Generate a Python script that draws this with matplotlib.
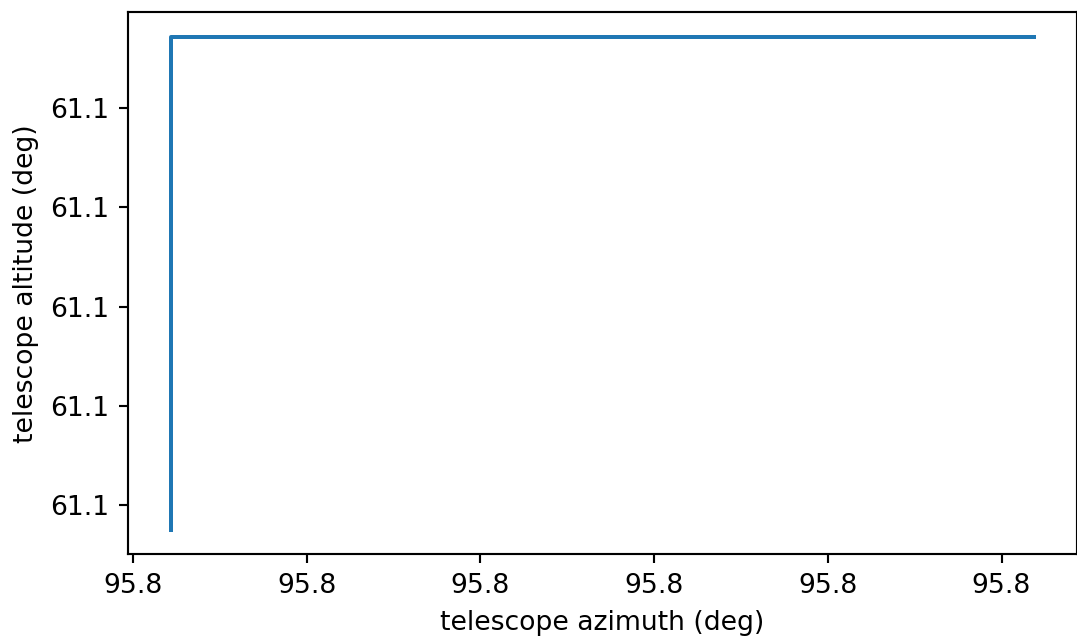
import matplotlib
matplotlib.use("Agg")
import matplotlib.pyplot as plt
from matplotlib.ticker import FormatStrFormatter

# telescope pointing track (deg)
azimuth = [95.844044, 95.844044, 95.845037]
altitude = [61.099975, 61.100472, 61.100472]

DPI = 192
fig = plt.figure(figsize=(1077 / DPI, 638 / DPI), dpi=DPI)
ax = fig.add_axes([0.1188, 0.1310, 0.8810, 0.8502])
ax.plot(azimuth, altitude, color='#1f77b4')

ax.xaxis.set_major_formatter(FormatStrFormatter('%.1f'))
ax.yaxis.set_major_formatter(FormatStrFormatter('%.1f'))
ax.set_xticks([95.8440 + 0.0002 * i for i in range(6)])
ax.set_yticks([61.1000 + 0.0001 * i for i in range(5)])
ax.set_xlabel('telescope azimuth (deg)')
ax.set_ylabel('telescope altitude (deg)')

fig.savefig('out.png', dpi=DPI)
